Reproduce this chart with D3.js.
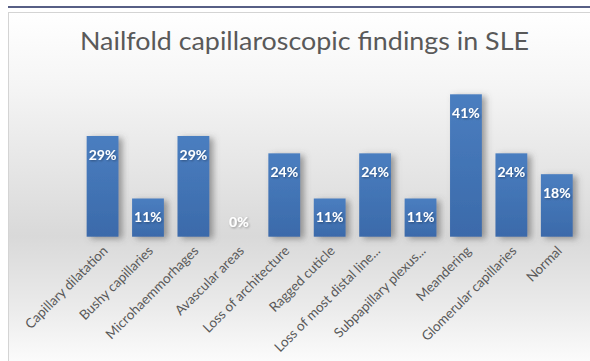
<!DOCTYPE html>
<html><head><meta charset="utf-8">
<script src="https://cdn.jsdelivr.net/npm/d3@7"></script>
<style>html,body{margin:0;padding:0;background:#fff;}svg{display:block;}</style>
</head><body>
<script>
const categories = ["Capillary dilatation","Bushy capillaries","Microhaemmorhages","Avascular areas","Loss of architecture","Ragged cuticle","Loss of most distal line...","Subpapillary plexus...","Meandering","Glomerular capillaries","Normal"];
const values = [29, 11, 29, 0, 24, 11, 24, 11, 41, 24, 18];
const title = "Nailfold capillaroscopic findings in SLE";

const W = 590, H = 361;
const svg = d3.select("body").append("svg").attr("width", W).attr("height", H);
const defs = svg.append("defs");

const bg = defs.append("linearGradient").attr("id","bg").attr("x1",0).attr("y1",0).attr("x2",0).attr("y2",1);
[[0,"#ffffff"],[0.2,"#f5f5f5"],[0.62,"#d9d9d9"],[0.82,"#ebebeb"],[1,"#ffffff"]].forEach(([o,c])=>bg.append("stop").attr("offset",o).attr("stop-color",c));

const bar = defs.append("linearGradient").attr("id","bar").attr("x1",0).attr("y1",0).attr("x2",0).attr("y2",1);
bar.append("stop").attr("offset",0).attr("stop-color","#4a7ec0");
bar.append("stop").attr("offset",1).attr("stop-color","#3b6aaa");

const sh = defs.append("filter").attr("id","sh").attr("x","-50%").attr("y","-50%").attr("width","200%").attr("height","200%");
sh.append("feDropShadow").attr("dx",4).attr("dy",2).attr("stdDeviation",3).attr("flood-color","#555").attr("flood-opacity",0.55);

const tsh = defs.append("filter").attr("id","tsh").attr("x","-50%").attr("y","-50%").attr("width","200%").attr("height","200%");
tsh.append("feDropShadow").attr("dx",1).attr("dy",1).attr("stdDeviation",1).attr("flood-color","#000").attr("flood-opacity",0.35);

// top rule and frame
svg.append("line").attr("x1",8).attr("x2",W).attr("y1",7).attr("y2",7).attr("stroke","#1f2a5c").attr("stroke-width",1.5);
svg.append("rect").attr("x",8.5).attr("y",12.5).attr("width",W).attr("height",H).attr("fill","url(#bg)").attr("stroke","#d4d4d4");

svg.append("text").attr("x",304.5).attr("y",50).attr("text-anchor","middle")
  .attr("font-family","Lato, 'Open Sans', sans-serif").attr("font-size",25).attr("fill","#595959")
  .attr("textLength",449).attr("lengthAdjust","spacingAndGlyphs").text(title);

const x = d3.scaleBand().domain(categories).range([79.85, 579.5]).paddingInner(0.3).paddingOuter(0.15);
const y = d3.scaleLinear().domain([0, 45]).range([236.7, 236.7 - 45*3.473]);

const data = categories.map((c,i)=>({c, v: values[i]}));

svg.append("g").selectAll("rect").data(data).join("rect")
  .attr("x", d=>x(d.c)).attr("width", x.bandwidth())
  .attr("y", d=>y(d.v)).attr("height", d=>y(0)-y(d.v))
  .attr("fill","url(#bar)").attr("filter","url(#sh)");

svg.append("g").selectAll("text").data(data).join("text")
  .attr("x", d=>x(d.c)+x.bandwidth()/2)
  .attr("y", d=>Math.min(y(d.v)+19, y(0)-15))
  .attr("dy","0.35em").attr("text-anchor","middle")
  .attr("font-family","Lato, 'Open Sans', sans-serif").attr("font-weight","bold").attr("font-size",14)
  .attr("fill","#ffffff").attr("filter","url(#tsh)")
  .text(d=>d.v+"%");

const ax = svg.append("g").attr("transform",`translate(0,${y(0)})`)
  .call(d3.axisBottom(x).tickSize(0).tickPadding(0));
ax.select(".domain").remove();
ax.selectAll("text")
  .attr("font-family","Lato, 'Open Sans', sans-serif").attr("font-size",13.5).attr("fill","#595959")
  .attr("text-anchor","end").attr("dy",0).attr("y",0).attr("x",0)
  .attr("transform","translate(6,15) rotate(-45)");
</script>
</body></html>
